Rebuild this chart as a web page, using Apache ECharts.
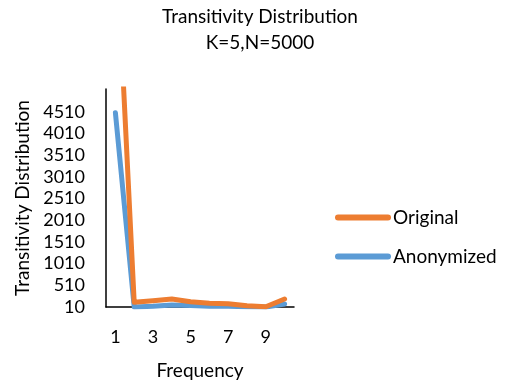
<!DOCTYPE html>
<html>
<head>
<meta charset="utf-8">
<script src="https://cdn.jsdelivr.net/npm/echarts@6/dist/echarts.min.js"></script>
<style>html,body{margin:0;padding:0;background:#fff;}#c{width:510px;height:385px;}</style>
</head>
<body>
<div id="c"></div>
<script>
var categories = ['1','2','3','4','5','6','7','8','9','10'];
var original = [8900, 118, 155, 195, 130, 95, 85, 40, 15, 195];
var anonymized = [4490, 10, 25, 55, 45, 30, 30, 15, 10, 80];
var yTickLabels = [10, 510, 1010, 1510, 2010, 2510, 3010, 3510, 4010, 4510];

var font = 'Lato, "Liberation Sans", sans-serif';
var chart = echarts.init(document.getElementById('c'), null, {renderer: 'canvas'});
chart.setOption({
  animation: false,
  title: {
    text: 'Transitivity Distribution\nK=5,N=5000',
    left: 255, textAlign: 'center', top: -1,
    textStyle: {fontFamily: font, fontSize: 19, fontWeight: 'normal', color: '#000', lineHeight: 26}
  },
  legend: {
    orient: 'vertical', left: 330, top: 203,
    data: ['Original', 'Anonymized'],
    icon: 'path://M3,0 H53 A3,3 0 0 1 53,6 H3 A3,3 0 0 1 3,0 Z',
    itemWidth: 56, itemHeight: 6, itemGap: 20,
    textStyle: {fontFamily: font, fontSize: 19, color: '#000', padding: [0, 0, 0, -3]}
  },
  grid: {left: 106, right: 216, top: 89, bottom: 77, containLabel: false},
  xAxis: {
    type: 'category', data: categories, boundaryGap: true,
    name: 'Frequency', nameLocation: 'middle', nameGap: 54,
    nameTextStyle: {fontFamily: font, fontSize: 19, color: '#000'},
    axisLine: {lineStyle: {color: '#000', width: 1.5}},
    axisTick: {show: false},
    axisLabel: {interval: 1, fontFamily: font, fontSize: 18, color: '#000', margin: 21}
  },
  yAxis: {
    type: 'value', min: 10, max: 5040, interval: 500,
    name: 'Transitivity Distribution', nameLocation: 'middle', nameGap: 74,
    nameTextStyle: {fontFamily: font, fontSize: 19, color: '#000'},
    axisLine: {show: true, lineStyle: {color: '#000', width: 1.5}},
    axisTick: {show: false},
    splitLine: {show: false},
    axisLabel: {
      fontFamily: font, fontSize: 18, color: '#000', margin: 21,
      formatter: function (v) { return yTickLabels.indexOf(v) >= 0 ? String(v) : ''; }
    }
  },
  series: [
    {name: 'Anonymized', type: 'line', data: anonymized, showSymbol: false, symbol: 'none',
     lineStyle: {color: '#5B9BD5', width: 5, cap: 'round', join: 'round'}, itemStyle: {color: '#5B9BD5'}},
    {name: 'Original', type: 'line', data: original, showSymbol: false, symbol: 'none',
     lineStyle: {color: '#ED7D31', width: 5, cap: 'round', join: 'round'}, itemStyle: {color: '#ED7D31'}}
  ]
});
</script>
</body>
</html>
